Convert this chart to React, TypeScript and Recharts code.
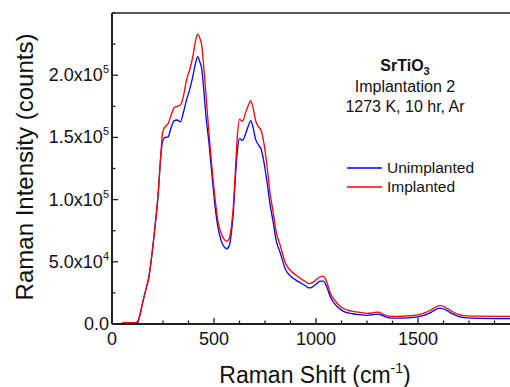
import { LineChart, Line, XAxis, YAxis, Label, Legend } from "recharts";

// Raman shift (cm^-1) and intensity (counts) for both samples
const shift = [
  50, 80, 110, 125, 135, 150, 165, 180, 195, 210, 225, 240, 248, 260, 275, 290, 305, 320, 335, 350,
  365, 380, 395, 410, 420, 430, 440, 450, 460, 475, 490, 505, 520, 535, 550, 562, 575, 585, 595, 605,
  615, 625, 640, 655, 670, 680, 690, 705, 720, 730, 745, 760, 775, 790, 805, 825, 850, 875, 900, 925,
  950, 965, 980, 1000, 1020, 1035, 1050, 1070, 1090, 1110, 1135, 1170, 1210, 1250, 1280, 1305, 1330, 1360, 1400, 1450,
  1500, 1540, 1570, 1600, 1615, 1640, 1665, 1700, 1740, 1800, 1900, 2000,
];
const unimplanted = [
  1000, 1000, 1000, 1200, 6000, 17000, 27000, 37000, 55000, 77000, 102000, 136000, 147000, 150000, 150500, 158000, 163500, 164000, 162500, 170000,
  180000, 188000, 198000, 210000, 215000, 211000, 205000, 188000, 168000, 146000, 120000, 95000, 77000, 67000, 62000, 60500, 63000, 73000, 90000, 118000,
  140000, 149000, 147500, 153000, 160000, 163500, 159000, 148000, 143500, 141000, 130000, 114000, 96000, 82000, 67000, 57000, 44000, 38500, 35500, 33000,
  30500, 29000, 29500, 32000, 34500, 34500, 31000, 22000, 16500, 13000, 10200, 8500, 7500, 7000, 7500, 8000, 6500, 5000, 4800, 5000,
  5800, 7500, 10000, 12500, 12600, 11000, 8500, 6000, 4900, 4500, 4400, 4400,
];
const implanted = [
  1000, 1000, 1000, 1200, 6000, 17000, 27000, 37000, 55000, 77000, 102000, 138000, 154000, 158500, 161000, 168000, 174000, 175000, 176000, 183000,
  196000, 204000, 214000, 228000, 233000, 230000, 224000, 206000, 186000, 154000, 126000, 101000, 82000, 73000, 68000, 66500, 69000, 78000, 95000, 124000,
  152000, 164500, 163000, 170000, 176500, 179500, 175000, 163000, 158000, 156000, 145000, 127000, 105000, 90000, 74000, 63000, 49000, 43000, 39500, 36500,
  34000, 32500, 33000, 35500, 38000, 38500, 35000, 25000, 19500, 15500, 12500, 10500, 9500, 8500, 9000, 9600, 7800, 6300, 6100, 6500,
  7400, 9400, 12000, 14600, 14800, 12800, 10300, 7600, 6600, 6300, 6200, 6200,
];

const xTicks = [0, 125, 250, 375, 500, 625, 750, 875, 1000, 1125, 1250, 1375, 1500, 1625, 1750, 1875, 2000];
const xLabelled = [0, 500, 1000, 1500];
const yTicks = [0, 25000, 50000, 75000, 100000, 125000, 150000, 175000, 200000, 225000, 250000];
const yLabelled = [0, 50000, 100000, 150000, 200000];
const yMantissa = ["0.0", "5.0x10", "1.0x10", "1.5x10", "2.0x10"];
const yExponent = ["", "4", "5", "5", "5"];

const rows = shift.map((s, i) => ({ shift: s, unimplanted: unimplanted[i], implanted: implanted[i] }));

const FONT = '"Liberation Sans", Arial, sans-serif';
const AXIS = "#222";
const BLUE = "#0000ff";
const RED = "#ff0000";

function BottomTick({ x, y, payload }: any) {
  const major = payload.value % 500 === 0;
  return (
    <g>
      <line x1={x} x2={x} y1={y} y2={y - (major ? 6 : 3.5)} stroke={AXIS} strokeWidth={1.3} />
      {xLabelled.includes(payload.value) && (
        <text x={x} y={y + 21} textAnchor="middle" fontSize={18} fontFamily={FONT} fill="#111">
          {payload.value}
        </text>
      )}
    </g>
  );
}

function TopTick({ x, y, payload }: any) {
  const major = payload.value % 500 === 0;
  return <line x1={x} x2={x} y1={y} y2={y + (major ? 6 : 3.5)} stroke={AXIS} strokeWidth={1.3} />;
}

function LeftTick({ x, y, payload }: any) {
  const i = yLabelled.indexOf(payload.value);
  return (
    <g>
      <line x1={x} x2={x + (i >= 0 ? 6 : 3.5)} y1={y} y2={y} stroke={AXIS} strokeWidth={1.3} />
      {i >= 0 && (
        <text x={x - 3} y={y} dy={6} textAnchor="end" fontSize={18} fontFamily={FONT} fill="#111">
          {yMantissa[i]}
          {yExponent[i] && (
            <tspan dy={-8} fontSize={11}>
              {yExponent[i]}
            </tspan>
          )}
        </text>
      )}
    </g>
  );
}

function LegendBox() {
  const items = [
    { name: "Unimplanted", color: BLUE },
    { name: "Implanted", color: RED },
  ];
  return (
    <div style={{ fontFamily: FONT, fontSize: 15.5, color: "#111" }}>
      {items.map((it) => (
        <div key={it.name} style={{ display: "flex", alignItems: "center", height: 19.5 }}>
          <svg width={35} height={4} style={{ marginRight: 5 }}>
            <line x1={0} x2={35} y1={2} y2={2} stroke={it.color} strokeWidth={1.3} />
          </svg>
          <span>{it.name}</span>
        </div>
      ))}
    </div>
  );
}

export default function App() {
  return (
    <div
      style={{
        position: "absolute",
        left: 0,
        top: 0,
        width: 510,
        height: 387,
        overflow: "hidden",
        background: "#fff",
      }}
    >
      <LineChart width={530} height={387} data={rows} margin={{ top: 0, right: 10, bottom: 0, left: 0 }}>
        <XAxis
          dataKey="shift"
          type="number"
          domain={[0, 2000]}
          ticks={xTicks}
          interval={0}
          height={63}
          tickSize={0}
          tickMargin={0}
          tickLine={false}
          axisLine={{ stroke: AXIS, strokeWidth: 2 }}
          tick={<BottomTick />}
        >
          <Label
            content={() => (
              <text x={315} y={383} textAnchor="middle" fontSize={23} fontFamily={FONT} fill="#111">
                Raman Shift (cm
                <tspan dy={-10} fontSize={14}>-1</tspan>
                <tspan dy={10}>)</tspan>
              </text>
            )}
          />
        </XAxis>
        <XAxis
          xAxisId="top"
          orientation="top"
          type="number"
          domain={[0, 2000]}
          ticks={xTicks}
          interval={0}
          height={13}
          tickSize={0}
          tickMargin={0}
          tickLine={false}
          axisLine={{ stroke: AXIS, strokeWidth: 1.6 }}
          tick={<TopTick />}
        />
        <YAxis
          type="number"
          domain={[0, 250000]}
          ticks={yTicks}
          interval={0}
          width={112}
          tickSize={0}
          tickMargin={0}
          tickLine={false}
          axisLine={{ stroke: AXIS, strokeWidth: 2 }}
          tick={<LeftTick />}
        >
          <Label
            content={() => (
              <text
                x={33}
                y={167}
                transform="rotate(-90 33 167)"
                textAnchor="middle"
                fontSize={24}
                fontFamily={FONT}
                fill="#111"
              >
                Raman Intensity (counts)
              </text>
            )}
          />
        </YAxis>
        <Legend
          layout="horizontal"
          verticalAlign="middle"
          align="center"
          content={<LegendBox />}
          wrapperStyle={{ left: 347, top: 158, width: "auto" }}
        />
        <Line
          dataKey="unimplanted"
          name="Unimplanted"
          type="monotone"
          stroke={BLUE}
          strokeWidth={1.3}
          dot={false}
          isAnimationActive={false}
        />
        <Line
          dataKey="implanted"
          name="Implanted"
          type="monotone"
          stroke={RED}
          strokeWidth={1.3}
          dot={false}
          isAnimationActive={false}
        />
      </LineChart>
      <div
        style={{
          position: "absolute",
          left: 305,
          top: 56,
          width: 200,
          textAlign: "center",
          fontFamily: FONT,
          fontSize: 16,
          lineHeight: "20.5px",
          color: "#111",
        }}
      >
        <div style={{ fontWeight: "bold" }}>
          SrTiO<sub style={{ fontSize: 11, verticalAlign: "-4px", lineHeight: 0 }}>3</sub>
        </div>
        <div>Implantation 2</div>
        <div>1273 K, 10 hr, Ar</div>
      </div>
    </div>
  );
}
